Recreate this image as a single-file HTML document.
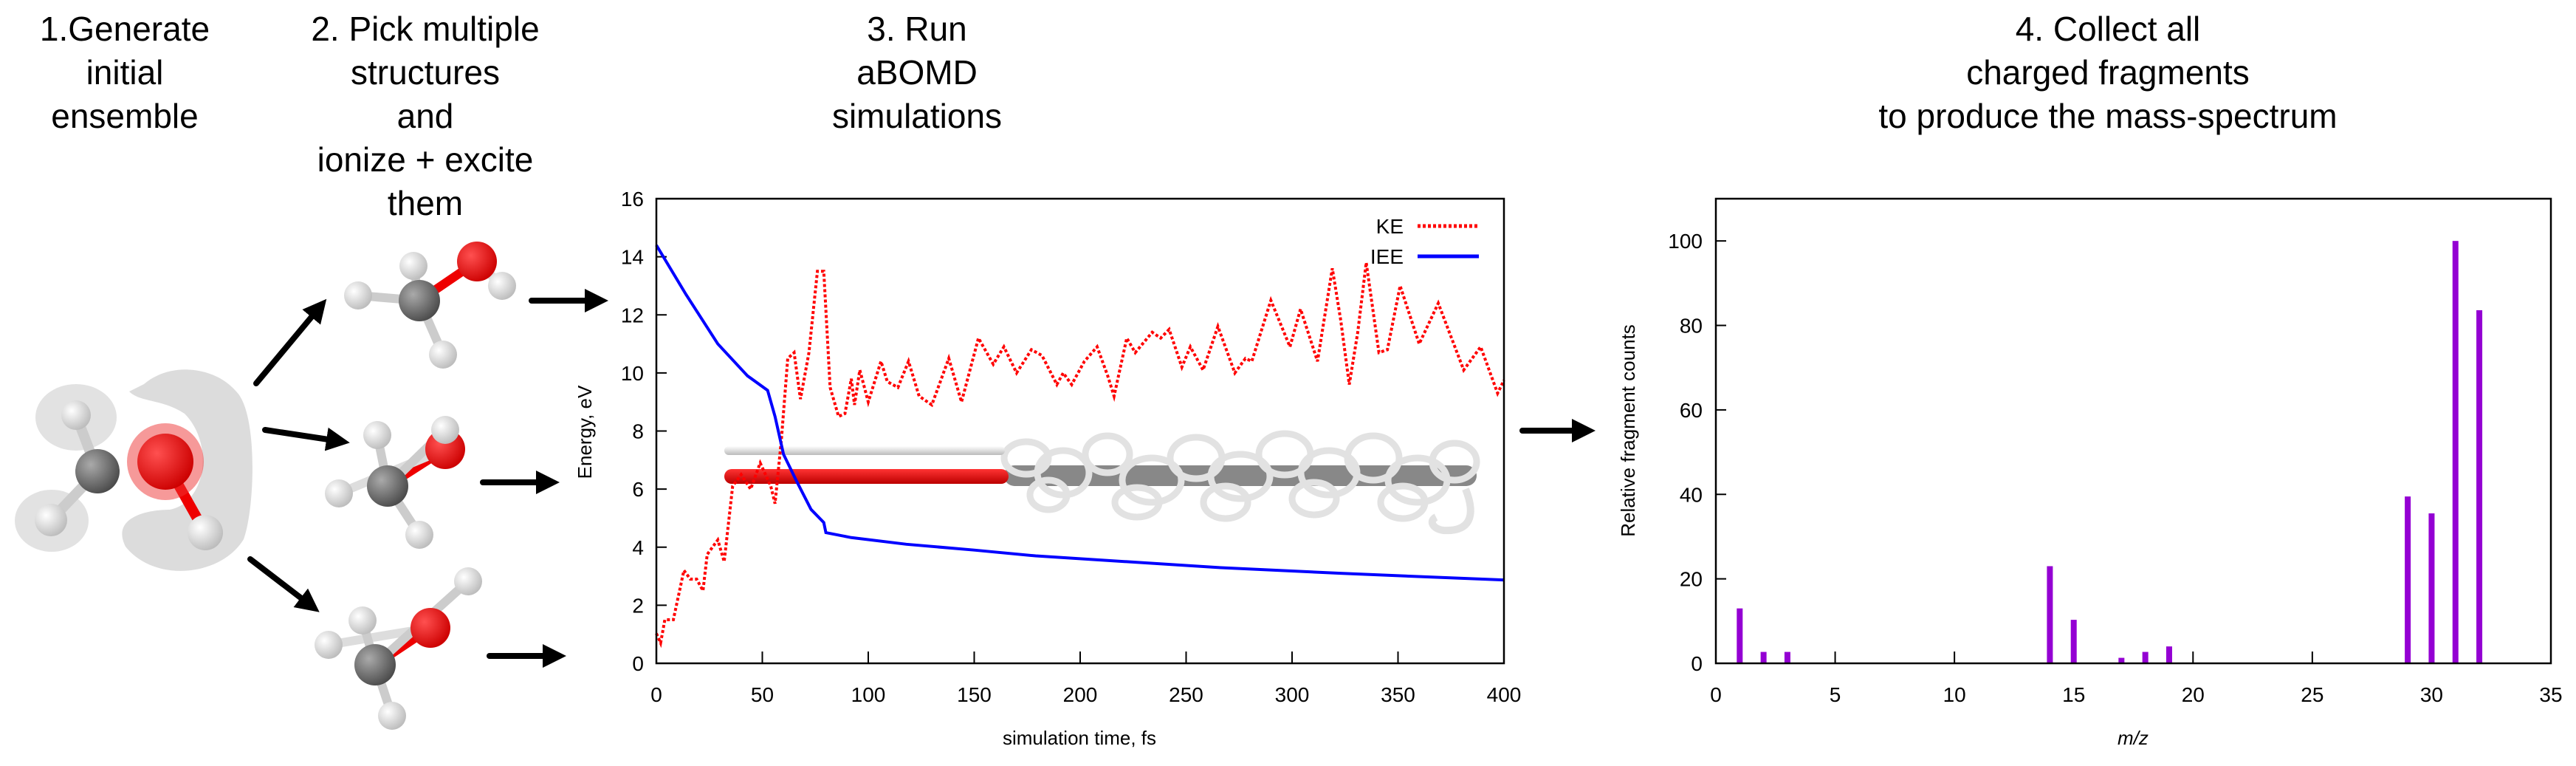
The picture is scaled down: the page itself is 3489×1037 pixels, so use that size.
<!DOCTYPE html>
<html><head><meta charset="utf-8"><style>
html,body{margin:0;padding:0;background:#fff;}
svg{display:block;}
text{font-family:"Liberation Sans",sans-serif;}
</style></head><body>
<svg id="fig" width="3489" height="1037" viewBox="0 0 3489 1037" xmlns="http://www.w3.org/2000/svg">
<defs>
<radialGradient id="gC" cx="35%" cy="35%" r="70%"><stop offset="0" stop-color="#aaa"/><stop offset="1" stop-color="#4a4a4a"/></radialGradient>
<radialGradient id="gO" cx="35%" cy="35%" r="70%"><stop offset="0" stop-color="#ff5050"/><stop offset="1" stop-color="#c00"/></radialGradient>
<radialGradient id="gH" cx="35%" cy="35%" r="70%"><stop offset="0" stop-color="#fff"/><stop offset="1" stop-color="#bbb"/></radialGradient>
<linearGradient id="gR" x1="0" y1="0" x2="0" y2="1"><stop offset="0" stop-color="#f33"/><stop offset="1" stop-color="#b00"/></linearGradient>
<linearGradient id="gW" x1="0" y1="0" x2="0" y2="1"><stop offset="0" stop-color="#fff"/><stop offset="1" stop-color="#bbb"/></linearGradient>
<marker id="ah" markerWidth="4" markerHeight="4" refX="2" refY="2" orient="auto" markerUnits="strokeWidth"><path d="M0,0 L4,2 L0,4 z" fill="#000"/></marker>
</defs>

<g font-size="46" text-anchor="middle" fill="#000">
<text x="169" y="55"><tspan x="169">1.Generate</tspan><tspan x="169" dy="59">initial</tspan><tspan x="169" dy="59">ensemble</tspan></text>
<text x="576" y="55"><tspan x="576">2. Pick multiple</tspan><tspan x="576" dy="59">structures</tspan><tspan x="576" dy="59">and</tspan><tspan x="576" dy="59">ionize + excite</tspan><tspan x="576" dy="59">them</tspan></text>
<text x="1242" y="55"><tspan x="1242">3. Run</tspan><tspan x="1242" dy="59">aBOMD</tspan><tspan x="1242" dy="59">simulations</tspan></text>
<text x="2855" y="55"><tspan x="2855">4. Collect all</tspan><tspan x="2855" dy="59">charged fragments</tspan><tspan x="2855" dy="59">to produce the mass-spectrum</tspan></text>
</g>

<g>
<path d="M195,520 C230,490 290,495 320,530 C350,560 345,690 330,730 C300,780 210,790 170,740 C150,700 200,690 230,690 C280,680 290,600 250,560 C220,540 190,545 175,530 Z" fill="#d8d8d8" opacity="0.9"/>
<ellipse cx="103" cy="565" rx="55" ry="45" fill="#ddd" opacity="0.85"/>
<ellipse cx="70" cy="705" rx="50" ry="42" fill="#ddd" opacity="0.85"/>
<line x1="132" y1="638" x2="103" y2="562" stroke="#ccc" stroke-width="14"/>
<line x1="132" y1="638" x2="69" y2="704" stroke="#ccc" stroke-width="14"/>
<line x1="224" y1="625" x2="278" y2="721" stroke="#e00" stroke-width="14"/>
<circle cx="132" cy="638" r="30" fill="url(#gC)"/>
<circle cx="224" cy="625" r="52" fill="#e33" opacity="0.5"/>
<circle cx="224" cy="625" r="38" fill="url(#gO)"/>
<circle cx="103" cy="562" r="20" fill="url(#gH)"/>
<circle cx="69" cy="704" r="22" fill="url(#gH)"/>
<circle cx="278" cy="721" r="24" fill="url(#gH)"/>
</g>

<g id="mols"></g>

<g stroke="#000" stroke-width="8" stroke-linecap="round">
<line x1="347" y1="519" x2="432" y2="417" marker-end="url(#ah)"/>
<line x1="359" y1="582" x2="458" y2="597" marker-end="url(#ah)"/>
<line x1="339" y1="757" x2="420" y2="819" marker-end="url(#ah)"/>
<line x1="720" y1="407" x2="808" y2="407" marker-end="url(#ah)"/>
<line x1="654" y1="653" x2="742" y2="653" marker-end="url(#ah)"/>
<line x1="663" y1="888" x2="751" y2="888" marker-end="url(#ah)"/>
<line x1="2062" y1="583" x2="2145" y2="583" marker-end="url(#ah)"/>
</g>

<g id="chart1"></g>
<g id="chart2"></g>
</svg>
<script>
// ---- Energy chart data ----
const keTime=[0,2,4,8,13,16,19,22,24,29,32,36,40,44.5,49,54,56,59,62,65,68,72,76,79,82,86,89,92,93.5,96,100,106,109,114,119,124,130,138,144,152,159,164,170,177,182,189,192,196,202,208,213,216,222,226,234,238,242,248,252,258,265,273,278,281,290,299,304,312,319,323,327,331,335,341,345,351,360,369,381,389,397,400];
const keValues=[1.03,0.7,1.5,1.5,3.2,2.9,2.9,2.5,3.75,4.25,3.5,6.1,6.5,6.0,6.9,6.1,5.5,7.7,10.5,10.7,9.1,10.7,13.5,13.5,9.5,8.5,8.6,9.8,8.9,10.1,9.0,10.4,9.7,9.5,10.4,9.2,8.9,10.5,9.0,11.2,10.3,10.9,10.0,10.8,10.6,9.6,10.0,9.6,10.4,10.9,9.9,9.2,11.2,10.7,11.4,11.2,11.5,10.2,10.9,10.1,11.6,10.0,10.5,10.4,12.5,10.9,12.2,10.4,13.6,11.8,9.6,11.4,13.8,10.7,10.8,13.0,11.0,12.4,10.1,10.9,9.3,9.75];
const ieeTime=[0,14,29,43,52.5,56,60,66,73,79,80,92,118,150,179,222,265,323,366,400];
const ieeValues=[14.4,12.7,11.0,9.9,9.4,8.5,7.2,6.3,5.3,4.85,4.5,4.33,4.1,3.9,3.7,3.5,3.3,3.1,2.97,2.87];
const xTicks1=[0,50,100,150,200,250,300,350,400];
const yTicks1=[0,2,4,6,8,10,12,14,16];
// ---- Mass spectrum data ----
const mzValues=[1,2,3,14,15,17,18,19,29,30,31,32];
const counts=[13,2.7,2.7,23,10.3,1.3,2.7,4,39.5,35.5,100,83.6];
const xTicks2=[0,5,10,15,20,25,30,35];
const yTicks2=[0,20,40,60,80,100];

const NS='http://www.w3.org/2000/svg';
function mk(parent,tag,attrs,text){const e=document.createElementNS(NS,tag);for(const k in attrs)e.setAttribute(k,attrs[k]);if(text!==undefined)e.textContent=text;parent.appendChild(e);return e;}

// molecules
const mols=document.getElementById('mols');
const molDefs=[
 {C:[568,407],O:[646,354],H:[[485,400],[560,360],[680,387],[600,480]]},
 {C:[525,658],O:[603,608],H:[[603,582],[511,589],[459,668],[568,724]]},
 {C:[508,900],O:[583,850],H:[[634,787],[491,840],[445,873],[531,969]]}
];
molDefs.forEach((m,i)=>{
 const g=mk(mols,'g',{});
 
 
 const hs=m.H;
 mk(g,'line',{x1:m.C[0],y1:m.C[1],x2:m.O[0],y2:m.O[1],stroke:'#e00','stroke-width':12});
 mk(g,'line',{x1:m.O[0],y1:m.O[1],x2:hs[2][0],y2:hs[2][1],stroke:'#ddd','stroke-width':12});
 [0,1,3].forEach(j=>mk(g,'line',{x1:m.C[0],y1:m.C[1],x2:hs[j][0],y2:hs[j][1],stroke:'#ccc','stroke-width':12}));
 mk(g,'circle',{cx:m.C[0],cy:m.C[1],r:28,fill:'url(#gC)'});
 mk(g,'circle',{cx:m.O[0],cy:m.O[1],r:27,fill:'url(#gO)'});
 hs.forEach(h=>mk(g,'circle',{cx:h[0],cy:h[1],r:19,fill:'url(#gH)'}));
});

// chart 1
const c1=document.getElementById('chart1');
const L1=889,R1=2037,T1=269,B1=898;
const sx1=v=>L1+(v-0)/(400-0)*(R1-L1);
const sy1=v=>B1-(v-0)/(16-0)*(B1-T1);
xTicks1.forEach(t=>{
 const tk=mk(c1,'line',{x1:sx1(t),y1:B1,x2:sx1(t),y2:B1-16,stroke:'#000','stroke-width':2});
 
 
 const lb=mk(c1,'text',{x:sx1(t),y:950,'font-size':28,'text-anchor':'middle'},String(t));
 
 
});
yTicks1.forEach(t=>{
 const tk=mk(c1,'line',{x1:L1,y1:sy1(t),x2:L1+14,y2:sy1(t),stroke:'#000','stroke-width':2});
 
 
 const lb=mk(c1,'text',{x:872,y:sy1(t)+10,'font-size':28,'text-anchor':'end'},String(t));
 
 
});
// trajectory illustration
const traj=mk(c1,'g',{});


mk(traj,'rect',{x:1360,y:630,width:640,height:28,rx:14,fill:'#888'});
const loops=[[1390,620,30,22],[1440,640,35,30],[1500,615,30,25],[1560,650,40,30],[1620,620,35,28],[1680,645,40,30],[1740,615,35,28],[1800,640,38,30],[1860,620,35,30],[1920,650,40,30],[1970,625,30,25],[1420,670,25,20],[1540,680,30,20],[1660,680,30,22],[1780,675,30,22],[1900,680,30,22]];
loops.forEach(l=>mk(traj,'ellipse',{cx:l[0],cy:l[1],rx:l[2],ry:l[3],fill:'none',stroke:'#e2e2e2','stroke-width':9}));
mk(traj,'path',{d:'M1985,662 C2000,700 1990,720 1955,718 C1940,716 1935,705 1945,700',fill:'none',stroke:'#e2e2e2','stroke-width':10});
mk(traj,'rect',{x:981,y:604,width:380,height:12,rx:6,fill:'url(#gW)'});
mk(traj,'rect',{x:981,y:635,width:385,height:20,rx:10,fill:'url(#gR)'});
// series
const ke=mk(c1,'polyline',{points:keTime.map((t,i)=>sx1(t)+','+sy1(keValues[i])).join(' '),fill:'none',stroke:'#f00','stroke-width':4,'stroke-dasharray':'4,3'});


const iee=mk(c1,'polyline',{points:ieeTime.map((t,i)=>sx1(t)+','+sy1(ieeValues[i])).join(' '),fill:'none',stroke:'#00f','stroke-width':4});


const fr1=mk(c1,'rect',{x:L1,y:T1,width:R1-L1,height:B1-T1,fill:'none',stroke:'#000','stroke-width':2.5});


const lg=mk(c1,'g',{});


const lk=mk(lg,'text',{x:1901,y:316,'font-size':28,'text-anchor':'end'},'KE');


mk(lg,'line',{x1:1920,y1:306,x2:2003,y2:306,stroke:'#f00','stroke-width':5,'stroke-dasharray':'4,3'});
const li=mk(lg,'text',{x:1901,y:357,'font-size':28,'text-anchor':'end'},'IEE');


mk(lg,'line',{x1:1920,y1:347,x2:2003,y2:347,stroke:'#00f','stroke-width':5});
const xt1=mk(c1,'text',{x:1462,y:1008,'font-size':26,'text-anchor':'middle'},'simulation time, fs');


const yt1=mk(c1,'text',{x:0,y:0,'font-size':26,'text-anchor':'middle',transform:'translate(801,585) rotate(-90)'},'Energy, eV');



// chart 2
const c2=document.getElementById('chart2');
const L2=2324,R2=3455,T2=269,B2=898;
const sx2=v=>L2+(v-0)/(35-0)*(R2-L2);
const sy2=v=>B2-(v-0)/(110-0)*(B2-T2);
xTicks2.forEach(t=>{
 if(t>0&&t<35){const tk=mk(c2,'line',{x1:sx2(t),y1:B2,x2:sx2(t),y2:B2-16,stroke:'#000','stroke-width':2});
 
 }
 const lb=mk(c2,'text',{x:sx2(t),y:950,'font-size':28,'text-anchor':'middle'},String(t));
 
 
});
yTicks2.forEach(t=>{
 const tk=mk(c2,'line',{x1:L2,y1:sy2(t),x2:L2+14,y2:sy2(t),stroke:'#000','stroke-width':2});
 
 
 const lb=mk(c2,'text',{x:2306,y:sy2(t)+10,'font-size':28,'text-anchor':'end'},String(t));
 
 
});
mzValues.forEach((m,i)=>{
 const b=mk(c2,'rect',{x:sx2(m)-4,y:sy2(counts[i]),width:8,height:B2-sy2(counts[i]),fill:'#9400d3'});
 
 
});
const fr2=mk(c2,'rect',{x:L2,y:T2,width:R2-L2,height:B2-T2,fill:'none',stroke:'#000','stroke-width':2.5});


const xt2=mk(c2,'text',{x:2889,y:1008,'font-size':26,'text-anchor':'middle','font-style':'italic'},'m/z');


const yt2=mk(c2,'text',{x:0,y:0,'font-size':26,'text-anchor':'middle',transform:'translate(2214,583) rotate(-90)'},'Relative fragment counts');


</script>
</body></html>
